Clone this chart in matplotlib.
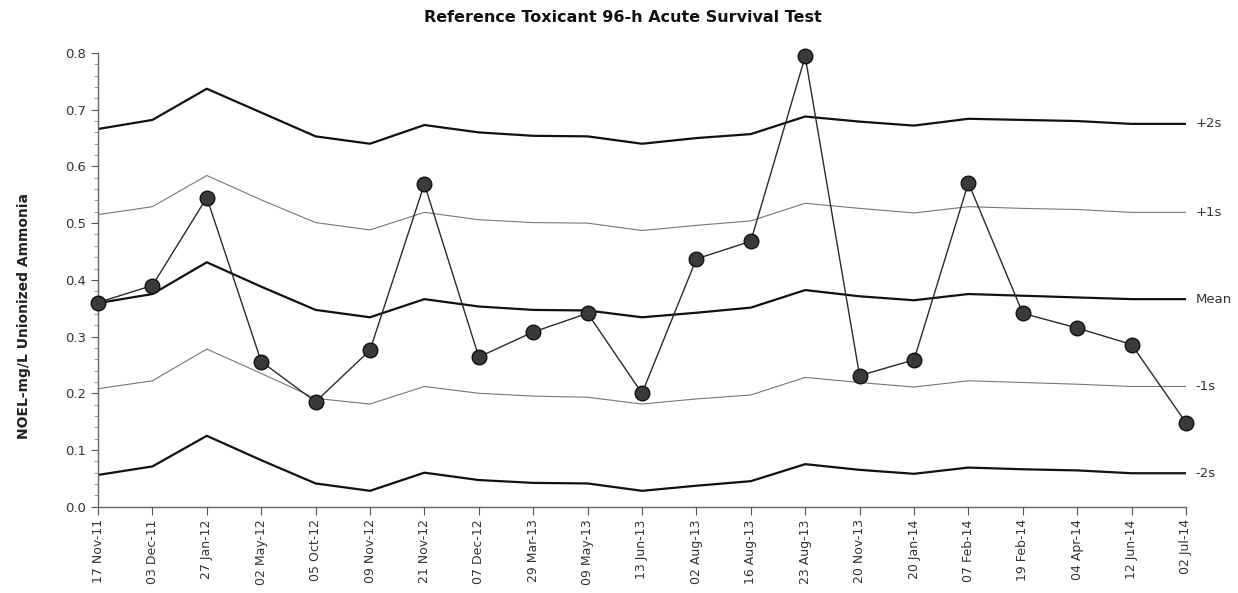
import numpy as np
import matplotlib.pyplot as plt
from matplotlib.ticker import MultipleLocator, FormatStrFormatter

# Testdaten Referenzgift (NOEL, mg/L unionisiertes Ammoniak)
datum = ["17 Nov-11", "03 Dec-11", "27 Jan-12", "02 May-12", "05 Oct-12", "09 Nov-12", "21 Nov-12",
         "07 Dec-12", "29 Mar-13", "09 May-13", "13 Jun-13", "02 Aug-13", "16 Aug-13", "23 Aug-13",
         "20 Nov-13", "20 Jan-14", "07 Feb-14", "19 Feb-14", "04 Apr-14", "12 Jun-14", "02 Jul-14"]

noel = [0.360, 0.390, 0.545, 0.256, 0.185, 0.276, 0.569, 0.264, 0.308, 0.341, 0.200,
        0.437, 0.468, 0.794, 0.231, 0.259, 0.571, 0.341, 0.315, 0.286, 0.148]

mittel = [0.359, 0.375, 0.431, 0.388, 0.347, 0.334, 0.366, 0.353, 0.347, 0.346, 0.334,
          0.342, 0.351, 0.382, 0.371, 0.364, 0.375, 0.372, 0.369, 0.366, 0.366]
plus_2s = [0.666, 0.682, 0.737, 0.695, 0.653, 0.640, 0.673, 0.660, 0.654, 0.653, 0.640,
           0.650, 0.657, 0.688, 0.679, 0.672, 0.684, 0.682, 0.680, 0.675, 0.675]
plus_1s = [0.515, 0.529, 0.584, 0.541, 0.501, 0.488, 0.519, 0.506, 0.501, 0.500, 0.487,
           0.496, 0.504, 0.535, 0.526, 0.518, 0.529, 0.526, 0.524, 0.519, 0.519]
minus_1s = [0.208, 0.222, 0.278, 0.235, 0.191, 0.181, 0.212, 0.200, 0.195, 0.193, 0.181,
            0.190, 0.197, 0.228, 0.219, 0.211, 0.222, 0.219, 0.216, 0.212, 0.212]
minus_2s = [0.056, 0.071, 0.125, 0.082, 0.041, 0.028, 0.060, 0.047, 0.042, 0.041, 0.028,
            0.037, 0.045, 0.075, 0.065, 0.058, 0.069, 0.066, 0.064, 0.059, 0.059]

grenzen = [("+2s", plus_2s, 1.6, "#111111"),
           ("+1s", plus_1s, 0.8, "#777777"),
           ("Mean", mittel, 1.6, "#111111"),
           ("-1s", minus_1s, 0.8, "#777777"),
           ("-2s", minus_2s, 1.6, "#111111")]

x = np.arange(len(datum))

fig = plt.figure(figsize=(12.38, 5.93), dpi=100)
ax = fig.add_axes([98 / 1238, 1 - 506.7 / 593, 1088 / 1238, 453.7 / 593])

for name, werte, lw, farbe in grenzen:
    ax.plot(x, werte, color=farbe, linewidth=lw, zorder=2)
    ax.annotate(name, xy=(x[-1], werte[-1]), xytext=(7, 0), textcoords="offset points",
                va="center", ha="left", fontsize=9.5, color="#333333", annotation_clip=False)

ax.plot(x, noel, color="#2a2a2a", linewidth=1.0, marker="o", markersize=10.5,
        markerfacecolor="#3a3a3a", markeredgecolor="#111111", markeredgewidth=1.0, zorder=3,
        clip_on=False)

ax.set_xlim(0, len(datum) - 1)
ax.set_ylim(0, 0.8)
ax.set_xticks(x)
ax.set_xticklabels(datum, rotation=90, fontsize=9, color="#333333")
ax.yaxis.set_major_locator(MultipleLocator(0.1))
ax.yaxis.set_minor_locator(MultipleLocator(0.02))
ax.yaxis.set_major_formatter(FormatStrFormatter("%.1f"))
ax.tick_params(axis="y", which="major", length=5, labelsize=9.5, colors="#555555", labelcolor="#333333")
ax.tick_params(axis="y", which="minor", length=3, colors="#888888")
ax.tick_params(axis="x", length=6, colors="#555555", labelcolor="#333333", pad=3)

for seite in ["top", "right"]:
    ax.spines[seite].set_visible(False)
for seite in ["left", "bottom"]:
    ax.spines[seite].set_color("#666666")
    ax.spines[seite].set_linewidth(1.0)

ax.set_ylabel("NOEL-mg/L Unionized Ammonia", fontsize=10, fontweight="bold", color="#222222")
ax.yaxis.set_label_coords(-0.062, 0.42)

fig.text(0.503, 1 - 17 / 593, "Reference Toxicant 96-h Acute Survival Test", ha="center", va="center",
         fontsize=11.5, fontweight="bold", color="#111111")

plt.savefig("out.png", dpi=100)
